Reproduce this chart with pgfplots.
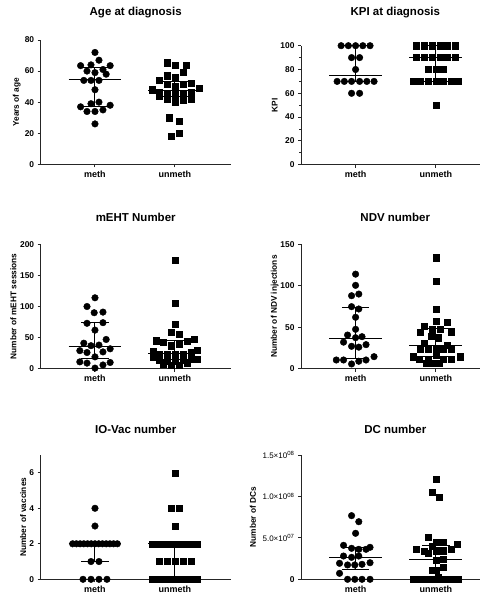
\documentclass[border=0pt]{standalone}
\usepackage{fontspec}
\setmainfont{Liberation Sans}
\usepackage{pgfplots}
\pgfplotsset{compat=1.18}

\newcommand\titfont{\fontsize{11.5}{13}\selectfont\bfseries}
\newcommand\tickfont{\fontsize{8.4}{10}\selectfont\bfseries}
\newcommand\catfont{\fontsize{9}{11}\selectfont\bfseries}
\newcommand\labfont{\fontsize{8.3}{10}\selectfont\bfseries}

\pgfplotsset{
  dot/.style={
    scale only axis, anchor=south west,
    axis x line*=bottom, axis y line*=left,
    axis line style={-, line width=1pt, black!85},
    tick align=outside, major tick length=3pt, minor tick length=2pt,
    tick style={line width=1pt, black!85},
    xtick={1,2}, xticklabels={meth,unmeth}, xmin=0.32,
    ymin=0, clip=false, unbounded coords=jump,
    /pgf/number format/assume math mode=true,
    yticklabel style={font=\tickfont},
    xticklabel style={font=\catfont},
    title style={font=\titfont, at={(axis description cs:0.5,1)}, anchor=center},
    ylabel style={font=\labfont, anchor=center},
  },
  leftcol/.style={width=190pt, xmax=2.7},
  rightcol/.style={width=179pt, xmax=2.55, title style={xshift=4.8pt}},
  meth/.style={only marks, mark=*, mark size=3.3pt, black},
  unmeth/.style={only marks, mark=square*, mark size=3.05pt, black, mark options={draw=none, fill=black}},
  stat/.style={black, line width=1pt, mark=none},
}

\begin{document}
\begin{tikzpicture}
\useasboundingbox (0,0) rectangle (486pt,-594pt);

% Age at diagnosis
\begin{axis}[dot, leftcol, at={(40.7pt,-164.3pt)}, height=124.3pt,
  ymax=80, ytick={0,20,40,60,80},
  title={Age at diagnosis}, title style={yshift=21pt},
  ylabel={Years of age}, ylabel style={at={(axis description cs:-0.126,0.5)}}]
\addplot[meth] coordinates {
 (1,72) (1.05,67) (0.82,63.5) (0.95,64) (1.19,63.5) (0.9,60) (1.1,61) (1,59) (1.14,58)
 (0.86,54) (0.95,54) (1.05,54) (1,48) (0.95,39) (1.05,40) (0.82,37) (1.19,38)
 (0.9,34) (1,34) (1.1,35) (1,26)};
\addplot[unmeth] coordinates {
 (1.91,65.4) (2.01,63.5) (2.14,63.5) (2.1,59) (1.91,57) (2.01,56) (1.81,54)
 (1.91,51.5) (2.01,50) (2.1,51.5) (2.2,52) (1.72,48) (2.3,49) (1.81,46.5)
 (1.91,45.5) (2.01,45) (2.1,45.5) (2.2,46.5) (1.81,44) (1.91,42) (2.01,40.3)
 (2.1,41.4) (2.2,42) (1.93,30) (2.06,28) (2.06,20) (1.96,18)};
\addplot[stat] coordinates {
 (0.67,54.3) (1.33,54.3) (nan,nan) (1,37.1) (1,62) (nan,nan)
 (0.83,37.1) (1.17,37.1) (nan,nan) (0.83,62) (1.17,62) (nan,nan)
 (1.67,47.3) (2.33,47.3) (nan,nan) (2,43.5) (2,53.5) (nan,nan)
 (1.83,43.5) (2.17,43.5) (nan,nan) (1.83,53.5) (2.17,53.5)};
\end{axis}

% KPI at diagnosis
\begin{axis}[dot, rightcol, at={(301pt,-164.7pt)}, height=119pt,
  ymax=100, ytick={0,20,40,60,80,100}, minor y tick num=1,
  title={KPI at diagnosis}, title style={yshift=26.7pt},
  ylabel={KPI}, ylabel style={at={(axis description cs:-0.147,0.5)}}]
\addplot[meth] coordinates {
 (0.82,100) (0.91,100) (1,100) (1.09,100) (1.18,100) (0.95,90) (1.05,90) (1,80)
 (0.77,70) (0.86,70) (0.95,70) (1.05,70) (1.14,70) (1.23,70) (0.95,60) (1.05,60)};
\addplot[unmeth] coordinates {
 (1.76,100) (1.86,100) (1.95,100) (2.05,100) (2.14,100) (2.24,100)
 (1.76,90) (1.86,90) (1.95,90) (2.05,90) (2.14,90) (2.24,90)
 (1.91,80) (2,80) (2.09,80)
 (1.72,70) (1.81,70) (1.91,70) (2,70) (2.09,70) (2.19,70) (2.28,70) (2,50)};
\addplot[stat] coordinates {
 (0.67,75) (1.33,75) (nan,nan) (1,70) (1,100) (nan,nan)
 (0.83,70) (1.17,70) (nan,nan) (0.83,100) (1.17,100) (nan,nan)
 (1.67,90) (2.33,90) (nan,nan) (2,70) (2,100) (nan,nan)
 (1.83,70) (2.17,70) (nan,nan) (1.83,100) (2.17,100)};
\end{axis}

% mEHT Number
\begin{axis}[dot, leftcol, at={(40.7pt,-368.7pt)}, height=124.4pt,
  ymax=200, ytick={0,50,100,150,200},
  title={mEHT Number}, title style={yshift=21pt},
  ylabel={Number of mEHT sessions}, ylabel style={at={(axis description cs:-0.144,0.5)}}]
\addplot[meth] coordinates {
 (1,114) (0.9,100) (0.99,90) (1.1,91) (0.9,73) (1.1,74) (1,62) (1.14,47)
 (0.86,41) (0.95,37) (1.05,38) (0.81,29) (0.9,26) (1.1,27) (1.19,32) (1,19)
 (0.81,11) (0.9,9) (1.1,6) (1.19,10) (1,1)};
\addplot[unmeth] coordinates {
 (2,175) (2,105) (2,72) (1.96,58) (2.06,55) (1.77,45) (1.86,42) (2.15,44) (2.24,47)
 (1.96,37) (2.06,39)
 (1.73,28) (1.81,24) (1.91,23) (2.01,23) (2.1,24) (2.2,26) (2.28,30)
 (1.73,18) (1.81,14) (1.91,12) (2.01,12) (2.1,13) (2.2,15) (2.28,16)
 (1.86,8) (1.96,6) (2.06,5) (2.15,9)};
\addplot[stat] coordinates {
 (0.67,36.5) (1.33,36.5) (nan,nan) (1,16.7) (1,74) (nan,nan)
 (0.83,16.7) (1.17,16.7) (nan,nan) (0.83,74) (1.17,74) (nan,nan)
 (1.67,24.7) (2.33,24.7) (nan,nan) (2,14) (2,45) (nan,nan)
 (1.83,14) (2.17,14) (nan,nan) (1.83,45) (2.17,45)};
\end{axis}

% NDV number
\begin{axis}[dot, rightcol, at={(301pt,-368.7pt)}, height=124.4pt,
  ymax=150, ytick={0,50,100,150},
  title={NDV number}, title style={yshift=21.3pt},
  ylabel={Number of NDV injections}, ylabel style={at={(axis description cs:-0.147,0.5)}}]
\addplot[meth] coordinates {
 (1,114) (1,100.5) (0.95,88) (1.04,90) (0.95,74.8) (1.04,72) (1,62) (1,47.5)
 (0.9,40.6) (1,37.4) (1.08,38.6) (0.85,32) (0.95,27) (1.04,26) (1.13,29)
 (0.76,10.5) (0.85,10.5) (0.95,5.7) (1.04,9) (1.13,10.5) (1.23,14.5)};
\addplot[unmeth] coordinates {
 (2,133.8) (2,105) (2,72) (2,57.5) (2.14,56) (1.86,51.5) (1.96,48) (2.05,48)
 (1.81,44) (2.19,44.6) (1.94,39.4) (2.03,37.4) (1.86,31) (2.14,28.6)
 (1.81,23) (1.9,23) (2,24.6) (2.09,23) (2.19,24) (2,16.5)
 (1.72,14.5) (1.79,11) (1.9,11) (2.09,11) (2.19,11) (2.3,14.5)
 (1.875,7) (1.96,6.5) (2.04,6.5)};
\addplot[stat] coordinates {
 (0.67,37) (1.33,37) (nan,nan) (1,12) (1,73.6) (nan,nan)
 (0.83,12) (1.17,12) (nan,nan) (0.83,73.6) (1.17,73.6) (nan,nan)
 (1.67,27.4) (2.33,27.4) (nan,nan) (2,14.5) (2,48) (nan,nan)
 (1.83,14.5) (2.17,14.5) (nan,nan) (1.83,48) (2.17,48)};
\end{axis}

% IO-Vac number
\begin{axis}[dot, leftcol, at={(40.7pt,-579.3pt)}, height=124.3pt,
  ymax=7, ytick={0,2,4,6},
  title={IO-Vac number}, title style={yshift=20pt},
  ylabel={Number of vaccines}, ylabel style={at={(axis description cs:-0.092,0.5)}}]
\addplot[meth] coordinates {
 (1,4) (1,3)
 (0.72,2) (0.767,2) (0.813,2) (0.86,2) (0.907,2) (0.953,2) (1,2) (1.047,2)
 (1.093,2) (1.14,2) (1.187,2) (1.233,2) (1.28,2)
 (0.95,1) (1.05,1) (0.85,0) (0.95,0) (1.05,0) (1.15,0)};
\addplot[unmeth] coordinates {
 (2,6) (1.95,4) (2.06,4) (2,3)
 (1.72,2) (1.767,2) (1.813,2) (1.86,2) (1.907,2) (1.953,2) (2,2) (2.047,2)
 (2.093,2) (2.14,2) (2.187,2) (2.233,2) (2.28,2)
 (1.81,1) (1.91,1) (2.01,1) (2.1,1) (2.2,1)
 (1.72,0) (1.767,0) (1.813,0) (1.86,0) (1.907,0) (1.953,0) (2,0) (2.047,0)
 (2.093,0) (2.14,0) (2.187,0) (2.233,0) (2.28,0)};
\addplot[stat] coordinates {
 (0.67,2) (1.33,2) (nan,nan) (1,1) (1,2) (nan,nan)
 (0.83,1) (1.17,1) (nan,nan)
 (1.67,2) (2.33,2) (nan,nan) (2,0) (2,2) (nan,nan)
 (1.83,0) (2.17,0)};
\end{axis}

% DC number (values in units of 10^7)
\begin{axis}[dot, rightcol, at={(301pt,-579.3pt)}, height=124.3pt,
  ymax=15, ytick={0,5,10,15},
  yticklabels={0, {\fontsize{8}{9}\selectfont\mdseries 5.0×10\textsuperscript{07}},
    {\fontsize{8}{9}\selectfont\mdseries 1.0×10\textsuperscript{08}},
    {\fontsize{8}{9}\selectfont\mdseries 1.5×10\textsuperscript{08}}},
  title={DC number}, title style={yshift=20pt},
  ylabel={Number of DCs}, ylabel style={at={(axis description cs:-0.268,0.5)}}]
\addplot[meth] coordinates {
 (0.95,7.68) (1.04,6.95) (1,5.55) (0.85,4.1) (0.95,3.74) (1.04,3.62) (1.13,3.62)
 (1.18,3.86) (0.85,2.81) (0.95,2.65) (1.04,2.81) (0.8,1.93) (0.9,1.73) (0.99,1.73)
 (1.08,1.81) (1.18,2.0) (0.8,0.72) (0.9,0) (0.99,0) (1.08,0) (1.18,0)};
\addplot[unmeth] coordinates {
 (2,12.1) (1.95,10.5) (2.04,9.95) (1.9,5.05) (2,4.45) (2.09,4.45) (2.27,4.2)
 (1.76,3.6) (1.85,3.4) (1.95,3.95) (2,3.45) (2.09,3.45) (2.19,3.6) (1.9,3.1)
 (2,2.3) (2.09,2.45) (2.09,1.45) (1.95,1.15) (2,1.15)
 (1.72,0) (1.79,0) (1.86,0) (1.93,0) (2,0) (2.07,0) (2.14,0) (2.21,0) (2.28,0) (2.03,0.3)};
\addplot[stat] coordinates {
 (0.67,2.65) (1.33,2.65) (nan,nan) (1,1.2) (1,3.8) (nan,nan)
 (0.83,1.2) (1.17,1.2) (nan,nan) (0.83,3.8) (1.17,3.8) (nan,nan)
 (1.67,2.41) (2.33,2.41) (nan,nan) (2,0) (2,4.14) (nan,nan)
 (1.83,4.14) (2.17,4.14)};
\end{axis}
\end{tikzpicture}
\end{document}
